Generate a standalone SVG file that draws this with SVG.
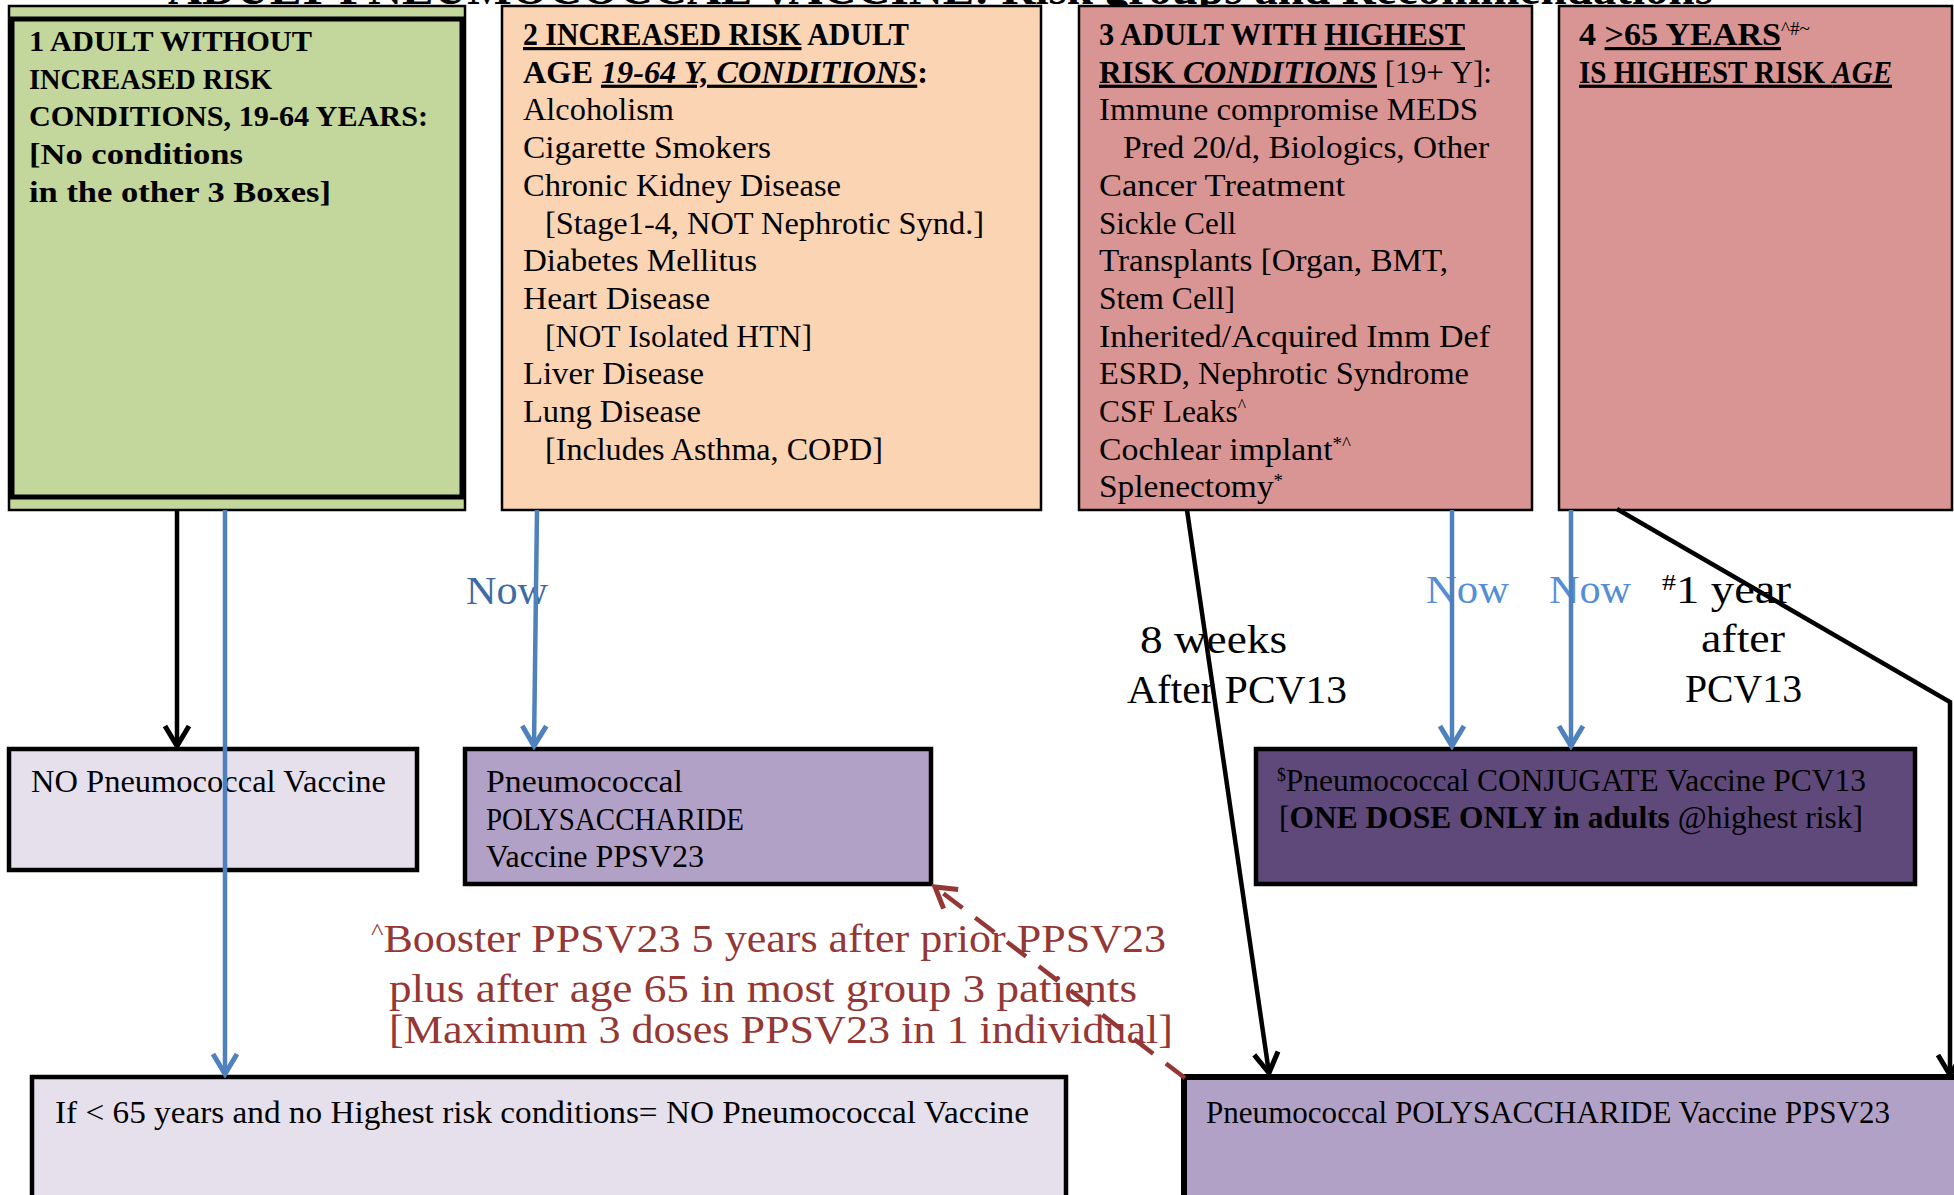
<svg xmlns="http://www.w3.org/2000/svg" width="1954" height="1195" viewBox="0 0 1954 1195">
<style>
.t{font-family:"Liberation Serif","DejaVu Serif",serif;fill:#000}
.b{font-weight:bold}
.i{font-style:italic}
.u{text-decoration:underline}
.n{font-weight:normal}
.bx{stroke:#000;stroke-width:2.5}
.bx4{stroke:#000;stroke-width:4.5}
.s32{font-size:32px}
.s30{font-size:30px}
.lbl{font-size:40px}
.red{fill:#953735}
.c{fill:none;stroke-width:4.5}
.blk{stroke:#000}
.blu{stroke:#4F81BD}
.rd{stroke:#953735;stroke-dasharray:24 16}
</style>
<defs>
<marker id="ab" viewBox="-24 -16 28 32" refX="0" refY="0" markerWidth="28" markerHeight="32" markerUnits="userSpaceOnUse" orient="auto">
<path d="M-20,-12 L0,0 L-20,12" fill="none" stroke="#000" stroke-width="5"/>
</marker>
<marker id="au" viewBox="-24 -16 28 32" refX="0" refY="0" markerWidth="28" markerHeight="32" markerUnits="userSpaceOnUse" orient="auto">
<path d="M-20,-12 L0,0 L-20,12" fill="none" stroke="#4F81BD" stroke-width="5"/>
</marker>
<marker id="ar" viewBox="-24 -16 28 32" refX="0" refY="0" markerWidth="28" markerHeight="32" markerUnits="userSpaceOnUse" orient="auto">
<path d="M-20,-12 L0,0 L-20,12" fill="none" stroke="#953735" stroke-width="5"/>
</marker>
</defs>
<rect width="1954" height="1195" fill="#fff"/>
<text class="t b" x="168" y="4" font-size="46" textLength="1545" lengthAdjust="spacingAndGlyphs">ADULT PNEUMOCOCCAL VACCINE: Risk groups and Recommendations</text>

<g id="box1">
<rect class="bx" x="9" y="6" width="456" height="504" fill="#C3D69B"/>
<rect x="12" y="19" width="450" height="478" fill="none" stroke="#000" stroke-width="5"/>
<g class="t b s30">
<text x="29" y="51" textLength="283" lengthAdjust="spacingAndGlyphs">1 ADULT WITHOUT</text>
<text x="29" y="88.5" textLength="243" lengthAdjust="spacingAndGlyphs">INCREASED RISK</text>
<text x="29" y="126" textLength="399" lengthAdjust="spacingAndGlyphs">CONDITIONS, 19-64 YEARS:</text>
<text x="29" y="164" textLength="214" lengthAdjust="spacingAndGlyphs">[No conditions</text>
<text x="29" y="202" textLength="302" lengthAdjust="spacingAndGlyphs">in the other 3 Boxes]</text>
</g>
</g>

<g id="box2">
<rect class="bx" x="502" y="6" width="539" height="504" fill="#FBD4B4"/>
<g class="t s32">
<text x="523" y="45" textLength="386" lengthAdjust="spacingAndGlyphs" class="b"><tspan class="u">2  INCREASED RISK</tspan> ADULT</text>
<text x="523" y="82.7" textLength="405" lengthAdjust="spacingAndGlyphs" class="b">AGE <tspan class="i u">19-64 Y, CONDITIONS</tspan>:</text>
<text x="523" y="120.4" textLength="151" lengthAdjust="spacingAndGlyphs">Alcoholism</text>
<text x="523" y="158.1" textLength="248" lengthAdjust="spacingAndGlyphs">Cigarette Smokers</text>
<text x="523" y="195.8" textLength="318" lengthAdjust="spacingAndGlyphs">Chronic Kidney Disease</text>
<text x="545" y="233.5" textLength="439" lengthAdjust="spacingAndGlyphs">[Stage1-4, NOT Nephrotic Synd.]</text>
<text x="523" y="271.2" textLength="234" lengthAdjust="spacingAndGlyphs">Diabetes Mellitus</text>
<text x="523" y="308.9" textLength="187" lengthAdjust="spacingAndGlyphs">Heart Disease</text>
<text x="545" y="346.6" textLength="267" lengthAdjust="spacingAndGlyphs">[NOT Isolated HTN]</text>
<text x="523" y="384.3" textLength="181" lengthAdjust="spacingAndGlyphs">Liver Disease</text>
<text x="523" y="422" textLength="178" lengthAdjust="spacingAndGlyphs">Lung Disease</text>
<text x="545" y="459.7" textLength="338" lengthAdjust="spacingAndGlyphs">[Includes Asthma, COPD]</text>
</g>
</g>

<g id="box3">
<rect class="bx" x="1079" y="6" width="453" height="504" fill="#D99594"/>
<g class="t s32">
<text x="1099" y="45" textLength="366" lengthAdjust="spacingAndGlyphs" class="b">3  ADULT WITH <tspan class="u">HIGHEST</tspan></text>
<text x="1099" y="82.7" textLength="393" lengthAdjust="spacingAndGlyphs"><tspan class="b u">RISK <tspan class="i">CONDITIONS</tspan></tspan> [19+ Y]:</text>
<text x="1099" y="120.4" textLength="379" lengthAdjust="spacingAndGlyphs">Immune compromise MEDS</text>
<text x="1123" y="158.1" textLength="366" lengthAdjust="spacingAndGlyphs">Pred 20/d, Biologics, Other</text>
<text x="1099" y="195.8" textLength="246" lengthAdjust="spacingAndGlyphs">Cancer Treatment</text>
<text x="1099" y="233.5" textLength="137" lengthAdjust="spacingAndGlyphs">Sickle Cell</text>
<text x="1099" y="271.2" textLength="349" lengthAdjust="spacingAndGlyphs">Transplants [Organ, BMT,</text>
<text x="1099" y="308.9" textLength="136" lengthAdjust="spacingAndGlyphs">Stem Cell]</text>
<text x="1099" y="346.6" textLength="391" lengthAdjust="spacingAndGlyphs">Inherited/Acquired Imm Def</text>
<text x="1099" y="384.3" textLength="370" lengthAdjust="spacingAndGlyphs">ESRD, Nephrotic Syndrome</text>
<text x="1099" y="422" textLength="147" lengthAdjust="spacingAndGlyphs">CSF Leaks<tspan font-size="18" baseline-shift="super">^</tspan></text>
<text x="1099" y="459.7" textLength="252" lengthAdjust="spacingAndGlyphs">Cochlear implant<tspan font-size="18" baseline-shift="super">*^</tspan></text>
<text x="1099" y="497.4" textLength="184" lengthAdjust="spacingAndGlyphs">Splenectomy<tspan font-size="18" baseline-shift="super">*</tspan></text>
</g>
</g>

<g id="box4">
<rect class="bx" x="1559" y="6" width="393" height="504" fill="#D99594"/>
<g class="t s32">
<text x="1579" y="45" textLength="231" lengthAdjust="spacingAndGlyphs" class="b">4  <tspan class="u">&gt;65 YEARS</tspan><tspan class="n" font-size="18" baseline-shift="super">^#~</tspan></text>
<text x="1579" y="82.7" textLength="313" lengthAdjust="spacingAndGlyphs" class="b u">IS HIGHEST RISK <tspan class="i">AGE</tspan></text>
</g>
</g>

<g id="noVaccine">
<rect class="bx4" x="9" y="749" width="408" height="121" fill="#E5E0EC"/>
<text class="t s32" x="31" y="792" textLength="355" lengthAdjust="spacingAndGlyphs">NO Pneumococcal Vaccine</text>
</g>

<g id="ppsv23a">
<rect class="bx4" x="465" y="749" width="466" height="135" fill="#B2A1C7"/>
<g class="t s32">
<text x="486" y="792" textLength="197" lengthAdjust="spacingAndGlyphs">Pneumococcal</text>
<text x="486" y="830" textLength="258" lengthAdjust="spacingAndGlyphs">POLYSACCHARIDE</text>
<text x="486" y="867" textLength="218" lengthAdjust="spacingAndGlyphs">Vaccine PPSV23</text>
</g>
</g>

<g id="pcv13">
<rect class="bx4" x="1256" y="749" width="659" height="135" fill="#5F497A"/>
<g class="t s32">
<text x="1277" y="791" textLength="589" lengthAdjust="spacingAndGlyphs"><tspan font-size="18" baseline-shift="super">$</tspan>Pneumococcal CONJUGATE Vaccine PCV13</text>
<text x="1279" y="828" textLength="584" lengthAdjust="spacingAndGlyphs">[<tspan class="b">ONE DOSE ONLY in adults</tspan> @highest risk]</text>
</g>
</g>

<g id="noVaccine2">
<rect class="bx4" x="32" y="1077" width="1034" height="140" fill="#E5E0EC"/>
<text class="t s32" x="55" y="1123" textLength="974" lengthAdjust="spacingAndGlyphs">If  &lt; 65 years and no Highest risk conditions= NO Pneumococcal Vaccine</text>
</g>

<g id="ppsv23b">
<rect x="1184" y="1077" width="790" height="140" fill="#B2A1C7" stroke="#000" stroke-width="6"/>
<text class="t s32" x="1206" y="1123" textLength="684" lengthAdjust="spacingAndGlyphs">Pneumococcal POLYSACCHARIDE Vaccine PPSV23</text>
</g>

<g id="labels" class="t lbl">
<text x="466" y="604" fill="#3E6BA6" textLength="82" lengthAdjust="spacingAndGlyphs">Now</text>
<text x="1140" y="653" textLength="147" lengthAdjust="spacingAndGlyphs">8 weeks</text>
<text x="1127" y="703" textLength="220" lengthAdjust="spacingAndGlyphs">After PCV13</text>
<text x="1426" y="603" fill="#558ED5" textLength="83" lengthAdjust="spacingAndGlyphs">Now</text>
<text x="1549" y="603" fill="#558ED5" textLength="82" lengthAdjust="spacingAndGlyphs">Now</text>
<text x="1662" y="603" textLength="129" lengthAdjust="spacingAndGlyphs"><tspan font-size="24" baseline-shift="super">#</tspan>1 year</text>
<text x="1701" y="652" textLength="84" lengthAdjust="spacingAndGlyphs">after</text>
<text x="1685" y="702" textLength="117" lengthAdjust="spacingAndGlyphs">PCV13</text>
<text class="red" x="371" y="952" textLength="795" lengthAdjust="spacingAndGlyphs"><tspan font-size="24" baseline-shift="super">^</tspan>Booster PPSV23 5 years after prior PPSV23</text>
<text class="red" x="389" y="1002" textLength="748" lengthAdjust="spacingAndGlyphs">plus after age 65 in most group 3 patients</text>
<text class="red" x="389" y="1043" textLength="784" lengthAdjust="spacingAndGlyphs">[Maximum 3 doses PPSV23 in 1 individual]</text>
</g>

<g id="connectors">
<line class="c blk" x1="177" y1="510" x2="177" y2="746" marker-end="url(#ab)"/>
<line class="c blu" x1="225" y1="510" x2="225" y2="1074" marker-end="url(#au)"/>
<line class="c blu" x1="537" y1="510" x2="534" y2="746" marker-end="url(#au)"/>
<line class="c blk" x1="1187" y1="510" x2="1269" y2="1073" marker-end="url(#ab)"/>
<line class="c blu" x1="1452" y1="510" x2="1452" y2="746" marker-end="url(#au)"/>
<line class="c blu" x1="1571" y1="510" x2="1571" y2="746" marker-end="url(#au)"/>
<polyline class="c blk" points="1617,509 1950,702 1950,1075" marker-end="url(#ab)"/>
<line class="c rd" x1="1185" y1="1078" x2="935" y2="887" marker-end="url(#ar)"/>
</g>
</svg>
